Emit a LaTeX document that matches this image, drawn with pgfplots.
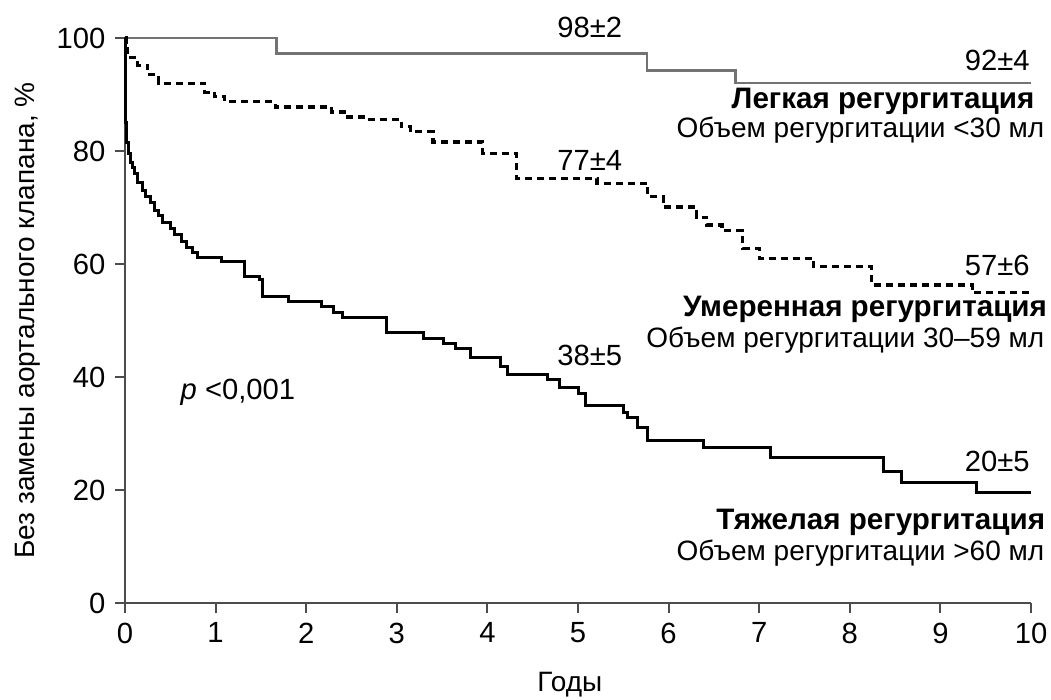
\documentclass[border=0pt]{standalone}
\usepackage{fontspec}
\setmainfont{Liberation Sans}
\usepackage{pgfplots}
\pgfplotsset{compat=1.18}
\newcommand\regtext{\fontsize{14bp}{16bp}\selectfont}
\newcommand\boldtext{\fontsize{14.8bp}{17bp}\selectfont\bfseries}
\newcommand\numtext{\fontsize{14.6bp}{17bp}\selectfont}
\begin{document}
\regtext
\begin{tikzpicture}
\begin{axis}[
  scale only axis, width=453bp, height=282.5bp,
  xmin=0, xmax=10, ymin=0, ymax=100,
  axis lines=left, axis line style={-, line width=1bp, color=black!70},
  tick align=outside, major tick length=5bp,
  tick style={line width=1bp, color=black!70},
  xtick={0,...,10}, ytick={0,20,...,100},
  /pgf/number format/assume math mode=true,
  ticklabel style={font=\fontsize{14.6bp}{17bp}\selectfont},
  xlabel={Годы}, ylabel={Без замены аортального клапана, \%},
  xlabel style={at={(axis description cs:0.491,-0.145)}, anchor=center},
  ylabel style={at={(axis description cs:-0.107,0.5)}, anchor=center},
  clip=false,
]
% лёгкая регургитация
\addplot[const plot, color=black!55, line width=1.3bp] coordinates {
(0,100)(1.67,97.3)(5.76,94.2)(6.74,92.0)(10,92.0)};
% умеренная регургитация
\addplot[const plot, black, line width=1.6bp, dash pattern=on 3.5bp off 2.5bp] coordinates {
(0,100)(0.01,98.2)(0.03,96.5)(0.14,95.2)(0.25,93.5)(0.37,92.0)(0.88,90.4)(0.99,89.6)
(1.1,88.7)(1.66,87.8)(2.28,86.9)(2.46,86.0)(2.65,85.6)(3.05,84.3)(3.15,83.4)(3.4,81.6)
(3.95,79.6)(4.32,75.2)(5.21,74.3)(5.77,71.9)(5.94,70.1)(6.31,68.3)(6.42,66.9)(6.59,65.9)
(6.82,62.8)(7.0,61.0)(7.6,59.5)(8.24,56.3)(9.35,54.9)(10,54.9)};
% тяжёлая регургитация
\addplot[const plot, black, line width=1.5bp] coordinates {
(0,100)(0.005,90)(0.01,85)(0.02,81.5)(0.04,79.5)(0.06,78)(0.08,77)(0.11,76)(0.14,74.5)
(0.19,73)(0.23,72)(0.28,70.8)(0.33,69.5)(0.37,68.5)(0.41,67.4)(0.5,66.3)(0.55,65.3)
(0.62,64)(0.68,63)(0.75,62)(0.8,61.1)(1.07,60.4)(1.32,57.7)(1.49,57.2)(1.52,54.2)
(1.8,53.3)(2.17,52.4)(2.3,51.5)(2.4,50.6)(2.89,47.8)(3.29,46.9)(3.51,46.0)(3.65,45)
(3.81,43.5)(4.14,41.8)(4.22,40.4)(4.66,39.5)(4.8,38.1)(5.0,37)(5.08,35.0)(5.5,33.8)
(5.55,32.9)(5.66,31)(5.77,28.8)(6.38,27.6)(7.12,25.8)(8.37,23.2)(8.57,21.4)(9.4,19.5)(10,19.5)};

\begin{scope}[every node/.style={inner sep=0pt}]
\node[font=\numtext] at (axis cs:5.13,101.8) {98±2};
\node[font=\numtext, anchor=east] at (axis cs:9.99,96.1) {92±4};
\node[font=\boldtext, anchor=east] at (axis cs:10.04,88.7) {Легкая регургитация};
\node[font=\regtext, anchor=east] at (axis cs:10.15,83.7) {Объем регургитации <30 мл};
\node[font=\numtext] at (axis cs:5.13,78.4) {77±4};
\node[font=\numtext, anchor=east] at (axis cs:9.99,59.8) {57±6};
\node[font=\boldtext, anchor=east] at (axis cs:10.18,51.9) {Умеренная регургитация};
\node[font=\regtext, anchor=east] at (axis cs:10.15,46.5) {Объем регургитации 30–59 мл};
\node[font=\numtext] at (axis cs:5.13,43.9) {38±5};
\node[font=\numtext, anchor=west] at (axis cs:0.61,37.3) {\textit{p} <0,001};
\node[font=\numtext, anchor=east] at (axis cs:9.99,25.0) {20±5};
\node[font=\boldtext, anchor=east] at (axis cs:10.16,14.2) {Тяжелая регургитация};
\node[font=\regtext, anchor=east] at (axis cs:10.15,8.8) {Объем регургитации >60 мл};
\end{scope}
\coordinate (O) at (axis cs:0,0);
\end{axis}
\pgfresetboundingbox
\path[use as bounding box] ([shift={(-62.5bp,-48.5bp)}]O) rectangle ([shift={(463bp,301.5bp)}]O);
\end{tikzpicture}
\end{document}
